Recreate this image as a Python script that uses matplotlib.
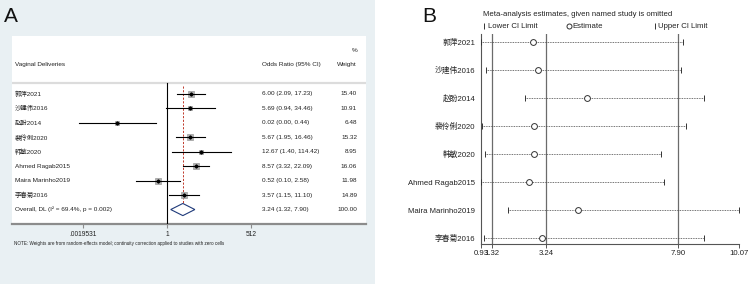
import matplotlib
matplotlib.use('Agg')
import matplotlib.pyplot as plt
from matplotlib.transforms import blended_transform_factory
from matplotlib.patches import Rectangle, Polygon
import numpy as np

plt.rcParams['font.family'] = ['Liberation Sans', 'Noto Sans CJK SC']

# ---------------- data ----------------
studies = ['郭萍2021', '沙建伟2016', '赵盼2014', '裴伶俐2020', '韩敏2020',
           'Ahmed Ragab2015', 'Maira Marinho2019', '李春菊2016']
or_est = [6.00, 5.69, 0.024, 5.67, 12.67, 8.57, 0.52, 3.57]
or_lo = [2.09, 0.94, 0.0015, 1.95, 1.40, 3.32, 0.10, 1.15]
or_hi = [17.23, 34.46, 0.44, 16.46, 114.42, 22.09, 2.58, 11.10]
weights = [15.40, 10.91, 6.48, 15.32, 8.95, 16.06, 11.98, 14.89]
overall_est, overall_lo, overall_hi = 3.24, 1.32, 7.90
overall_label = 'Overall, DL (I² = 69.4%, p = 0.002)'
a_ticks = [2.0 ** -9, 1, 2.0 ** 9]
a_ticklabels = ['.0019531', '1', '512']

# sensitivity (study omitted)
b_est = [2.78, 2.96, 4.68, 2.80, 2.80, 2.63, 4.37, 3.10]
b_lo = [0.94, 1.10, 2.49, 0.95, 1.08, 0.93, 1.90, 1.05]
b_hi = [8.10, 8.00, 8.83, 8.19, 7.30, 7.42, 10.07, 8.84]
b_ticks = [0.93, 1.32, 3.24, 7.90, 10.07]

# ---------------- figure ----------------
W, H = 750, 284
fig = plt.figure(figsize=(7.5, 2.84), dpi=100)
fig.patch.set_facecolor('white')


def fx(x):
    return x / W


def fy(y):
    return 1 - y / H


fig.patches.append(Rectangle((0, 0), 375 / W, 1, transform=fig.transFigure,
                             facecolor='#E9F0F3', edgecolor='none', zorder=-10))

# ---------------- panel A ----------------
axA = fig.add_axes([12 / W, 1 - 224 / H, 354 / W, 188 / H])
axA.set_facecolor('white')
axA.set_xscale('log', base=2)
ppu = 84 / 9.0  # px per log2 unit
axA.set_xlim(2 ** (-155 / ppu), 2 ** (199 / ppu))
axA.set_ylim(9, -4)
for s in ['top', 'left', 'right']:
    axA.spines[s].set_visible(False)
axA.spines['bottom'].set_color('#8c8c8c')
axA.spines['bottom'].set_linewidth(1.6)
axA.set_xticks(a_ticks)
axA.set_xticklabels(a_ticklabels)
axA.xaxis.set_minor_locator(matplotlib.ticker.NullLocator())
axA.tick_params(axis='x', colors='#8c8c8c', length=3, width=0.8,
                labelsize=4.8, labelcolor='#222222', pad=2)
axA.set_yticks([])

axA.axhline(-0.75, color='#dcdcdc', lw=1.6)
axA.plot([1, 1], [-0.75, 9], color='black', lw=0.8, zorder=3)
axA.plot([overall_est, overall_est], [-0.55, 8 - 0.42], color='#c0392b',
         ls=(0, (2.2, 1.6)), lw=0.7, zorder=2)

for i in range(len(studies)):
    axA.plot(or_est[i], i, marker='s', ms=np.sqrt(weights[i]) * 1.05,
             mfc='#b4b4b4', mec='#8a8a8a', mew=0.4, zorder=2)
    axA.plot([or_lo[i], or_hi[i]], [i, i], color='black', lw=0.8, zorder=3)
    axA.plot(or_est[i], i, marker='D', ms=1.6, color='black', zorder=4)

n = len(studies)
h = 0.42
axA.add_patch(Polygon([(overall_lo, n), (overall_est, n - h), (overall_hi, n),
                       (overall_est, n + h)], closed=True, facecolor='white',
                      edgecolor='#1f3a7a', lw=0.8, zorder=4))

tr = blended_transform_factory(axA.transAxes, axA.transData)
xl, xo, xw = 3 / 354, 250 / 354, 345 / 354
fsA = 4.6
tc = '#222222'
axA.text(xl, -2, 'Vaginal Deliveries', transform=tr, fontsize=fsA, va='center', color=tc)
axA.text(xo, -2, 'Odds Ratio (95% CI)', transform=tr, fontsize=fsA, va='center', color=tc)
axA.text(xw, -2, 'Weight', transform=tr, fontsize=fsA, va='center', ha='right', color=tc)
axA.text(xw, -3, '%', transform=tr, fontsize=fsA, va='center', ha='right', color=tc)
for i in range(n):
    axA.text(xl, i, studies[i], transform=tr, fontsize=fsA, va='center', color=tc)
    axA.text(xo, i, f'{or_est[i]:.2f} ({or_lo[i]:.2f}, {or_hi[i]:.2f})',
             transform=tr, fontsize=fsA, va='center', color=tc)
    axA.text(xw, i, f'{weights[i]:.2f}', transform=tr, fontsize=fsA,
             va='center', ha='right', color=tc)
axA.text(xl, n, overall_label, transform=tr, fontsize=fsA, va='center', color=tc)
axA.text(xo, n, f'{overall_est:.2f} ({overall_lo:.2f}, {overall_hi:.2f})',
         transform=tr, fontsize=fsA, va='center', color=tc)
axA.text(xw, n, f'{100:.2f}', transform=tr, fontsize=fsA, va='center', ha='right', color=tc)

fig.text(fx(14), fy(243), 'NOTE: Weights are from random-effects model; continuity '
         'correction applied to studies with zero cells', fontsize=3.3,
         va='center', color=tc)

fig.text(fx(4), fy(16), 'A', fontsize=15, va='center', color='#111111')
fig.text(fx(422), fy(17), 'B', fontsize=15, va='center', color='#111111')

# ---------------- panel B ----------------
axB = fig.add_axes([481 / W, 1 - 244 / H, 258 / W, 210 / H])
axB.set_xlim(b_ticks[0], b_ticks[-1])
rows = np.arange(1, n + 1)
axB.set_ylim(8.214, 0.714)
for s in ['top', 'right']:
    axB.spines[s].set_visible(False)
for s in ['left', 'bottom']:
    axB.spines[s].set_color('#555555')
    axB.spines[s].set_linewidth(0.8)
axB.set_xticks(b_ticks)
axB.set_xticklabels([f'{v:.2f}' for v in b_ticks])
axB.set_yticks(rows)
axB.set_yticklabels(studies)
fsB = 5.6
axB.tick_params(axis='x', colors='#555555', length=3, width=0.7,
                labelsize=fsB, labelcolor='#222222', pad=1.5)
axB.tick_params(axis='y', length=0, labelsize=fsB, labelcolor='#222222', pad=4)

for v in [overall_lo, overall_est, overall_hi]:
    axB.axvline(v, color='#6b6b6b', lw=0.9, zorder=1)

for i in range(n):
    r = rows[i]
    axB.plot([b_lo[i], b_hi[i]], [r, r], color='#444444', ls=(0, (1, 1)), lw=0.6, zorder=2)
    axB.plot([b_lo[i], b_hi[i]], [r, r], ls='none', marker='|', ms=4.5,
             mew=0.7, color='#333333', zorder=3)
    axB.plot(b_est[i], r, marker='o', ms=4.2, mfc='white', mec='#333333',
             mew=0.7, zorder=4)

fig.text(fx(483), fy(15), 'Meta-analysis estimates, given named study is omitted',
         fontsize=fsB, va='center', color='#222222')
axB.plot([fx(484)], [fy(26)], marker='|', ms=4, mew=0.7, color='#333333',
         transform=fig.transFigure, clip_on=False)
fig.text(fx(487.5), fy(26), 'Lower CI Limit', fontsize=fsB, va='center', color='#222222')
axB.plot([fx(569)], [fy(26)], marker='o', ms=3.6, mfc='white', mec='#333333', mew=0.7,
         transform=fig.transFigure, clip_on=False)
fig.text(fx(572.5), fy(26), 'Estimate', fontsize=fsB, va='center', color='#222222')
axB.plot([fx(655)], [fy(26)], marker='|', ms=4, mew=0.7, color='#333333',
         transform=fig.transFigure, clip_on=False)
fig.text(fx(658.5), fy(26), 'Upper CI Limit', fontsize=fsB, va='center', color='#222222')

fig.savefig('out.png', dpi=100, facecolor=fig.get_facecolor())
